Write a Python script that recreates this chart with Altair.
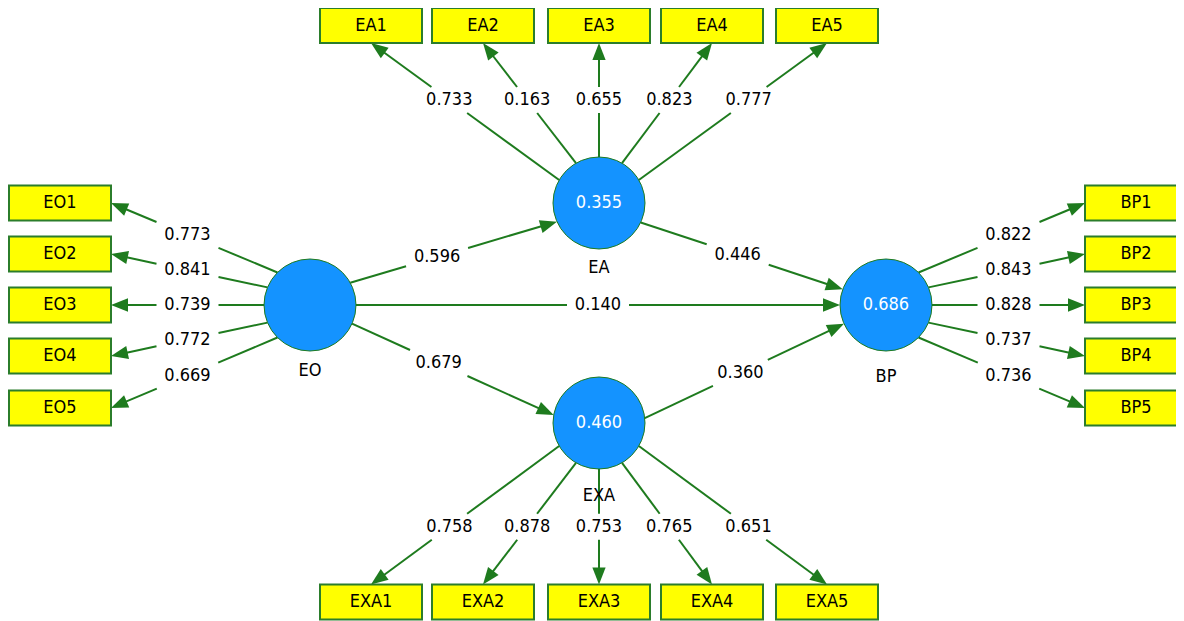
import math
import altair as alt
import pandas as pd

# ---------------- data ----------------
constructs = ["EO", "EA", "EXA", "BP"]
r2_values = ["", "0.355", "0.460", "0.686"]

eo_items = ["EO1", "EO2", "EO3", "EO4", "EO5"]
eo_loadings = [0.773, 0.841, 0.739, 0.772, 0.669]
ea_items = ["EA1", "EA2", "EA3", "EA4", "EA5"]
ea_loadings = [0.733, 0.163, 0.655, 0.823, 0.777]
exa_items = ["EXA1", "EXA2", "EXA3", "EXA4", "EXA5"]
exa_loadings = [0.758, 0.878, 0.753, 0.765, 0.651]
bp_items = ["BP1", "BP2", "BP3", "BP4", "BP5"]
bp_loadings = [0.822, 0.843, 0.828, 0.737, 0.736]

path_from = ["EO", "EO", "EO", "EA", "EXA"]
path_to = ["EA", "EXA", "BP", "BP", "BP"]
path_coefs = [0.596, 0.679, 0.140, 0.446, 0.360]

# ---------------- layout (diagram positions, px) ----------------
node_cx = [310, 599, 599, 886]
node_cy = [305, 203, 423, 305]
node_name_dy = [66, 65, 73, 72]
RADIUS = 46
BOX_W, BOX_H = 102, 35

eo_box_x = [60] * 5
eo_box_y = [203, 254, 305, 356, 408]
ea_box_x = [371, 483, 599, 712, 827]
ea_box_y = [25.5] * 5
exa_box_x = [371, 483, 599, 712, 827]
exa_box_y = [602] * 5
bp_box_x = [1136] * 5
bp_box_y = [203, 254, 305, 356, 408]

eo_angles = [135, 157.5, 180, 202.5, 225]
ea_angles = [150, 120, 90, 60, 30]
exa_angles = [210, 240, 270, 300, 330]
bp_angles = [45, 22.5, 0, -22.5, -45]

path_src_angle = [29, -24, 0, -25, 6]
path_dst_angle = [204, 170, 180, 160, 204]
path_label_t = [0.42, 0.43, 0.5, 0.48, 0.48]

GAP_HW, GAP_HH = 31, 13
ARROW_LEN = 17

GREEN = "#1e7b1e"
BOX_STROKE = "#2b7d2b"
BLUE = "#1493ff"
YELLOW = "#ffff00"
FONT = "DejaVu Sans Condensed"
FSIZE = 18


def circ_pt(i, ang):
    a = math.radians(ang)
    return node_cx[i] + RADIUS * math.cos(a), node_cy[i] - RADIUS * math.sin(a)


edges = []  # (sx, sy, tx, ty, lx, ly, text)

blocks = [
    ("EO", eo_items, eo_loadings, eo_box_x, eo_box_y, eo_angles, "right"),
    ("EA", ea_items, ea_loadings, ea_box_x, ea_box_y, ea_angles, "bottom"),
    ("EXA", exa_items, exa_loadings, exa_box_x, exa_box_y, exa_angles, "top"),
    ("BP", bp_items, bp_loadings, bp_box_x, bp_box_y, bp_angles, "left"),
]

boxes = []
for name, items, loads, bxs, bys, angs, side in blocks:
    ci = constructs.index(name)
    cx, cy = node_cx[ci], node_cy[ci]
    for it, ld, bx, by, ang in zip(items, loads, bxs, bys, angs):
        boxes.append({"x": bx - BOX_W / 2, "x2": bx + BOX_W / 2,
                      "y": by - BOX_H / 2, "y2": by + BOX_H / 2,
                      "cx": bx, "cy": by, "label": it})
        sx, sy = circ_pt(ci, ang)
        if side == "right":
            tx, ty = bx + BOX_W / 2, by
            lx = ((cx - RADIUS) + tx) / 2
            ly = sy + (ty - sy) * (lx - sx) / (tx - sx)
        elif side == "left":
            tx, ty = bx - BOX_W / 2, by
            lx = ((cx + RADIUS) + tx) / 2
            ly = sy + (ty - sy) * (lx - sx) / (tx - sx)
        elif side == "bottom":
            tx, ty = bx, by + BOX_H / 2
            ly = ((cy - RADIUS) + ty) / 2
            lx = sx + (tx - sx) * (ly - sy) / (ty - sy)
        else:
            tx, ty = bx, by - BOX_H / 2
            ly = ((cy + RADIUS) + ty) / 2
            lx = sx + (tx - sx) * (ly - sy) / (ty - sy)
        edges.append((sx, sy, tx, ty, lx, ly, f"{ld:.3f}"))

for f, t, c, sa, da, lt in zip(path_from, path_to, path_coefs,
                               path_src_angle, path_dst_angle, path_label_t):
    sx, sy = circ_pt(constructs.index(f), sa)
    tx, ty = circ_pt(constructs.index(t), da)
    lx, ly = sx + (tx - sx) * lt, sy + (ty - sy) * lt
    edges.append((sx, sy, tx, ty, lx, ly, f"{c:.3f}"))

segs, heads, labels = [], [], []
for sx, sy, tx, ty, lx, ly, txt in edges:
    dx, dy = tx - sx, ty - sy
    L = math.hypot(dx, dy)
    ux, uy = dx / L, dy / L
    s = min(GAP_HW / abs(ux) if abs(ux) > 1e-9 else 1e9,
            GAP_HH / abs(uy) if abs(uy) > 1e-9 else 1e9)
    segs.append({"x": sx, "y": sy, "x2": lx - s * ux, "y2": ly - s * uy})
    segs.append({"x": lx + s * ux, "y": ly + s * uy,
                 "x2": tx - 0.8 * ARROW_LEN * ux, "y2": ty - 0.8 * ARROW_LEN * uy})
    ang = math.degrees(math.atan2(dx, -dy)) % 360
    heads.append({"x": tx, "y": ty, "angle": ang})
    labels.append({"x": lx, "y": ly, "label": txt})

nodes = pd.DataFrame({
    "x": node_cx, "y": node_cy, "r2": r2_values, "name": constructs,
    "ny": [cy + d for cy, d in zip(node_cy, node_name_dy)],
})

XS = alt.Scale(domain=[8, 1176], nice=False, zero=False)
YS = alt.Scale(domain=[8, 621], reverse=True, nice=False, zero=False)


def X(f="x"):
    return alt.X(f"{f}:Q", scale=XS, axis=None)


def Y(f="y"):
    return alt.Y(f"{f}:Q", scale=YS, axis=None)


rules = alt.Chart(pd.DataFrame(segs)).mark_rule(
    color=GREEN, strokeWidth=2).encode(
    x=X(), y=Y(), x2="x2:Q", y2="y2:Q")

arrows = alt.Chart(pd.DataFrame(heads)).mark_point(
    shape="M0,0L-0.78,2L0.78,2Z", filled=True, size=ARROW_LEN ** 2,
    color=GREEN, opacity=1, strokeWidth=0).encode(
    x=X(), y=Y(), angle=alt.Angle("angle:Q", scale=None))

circles = alt.Chart(nodes).mark_circle(
    size=(2 * RADIUS) ** 2, color=BLUE, opacity=1,
    stroke=GREEN, strokeWidth=1).encode(x=X(), y=Y())

rects = alt.Chart(pd.DataFrame(boxes)).mark_rect(
    fill=YELLOW, stroke=BOX_STROKE, strokeWidth=2).encode(
    x=X(), x2="x2:Q", y=Y(), y2="y2:Q")

box_text = alt.Chart(pd.DataFrame(boxes)).mark_text(
    font=FONT, fontSize=FSIZE, color="#000000", baseline="middle",
    align="center").encode(x=X("cx"), y=Y("cy"), text="label:N")

r2_text = alt.Chart(nodes).mark_text(
    font=FONT, fontSize=FSIZE, color="#ffffff", baseline="middle",
    align="center").encode(x=X(), y=Y(), text="r2:N")

name_text = alt.Chart(nodes).mark_text(
    font=FONT, fontSize=FSIZE, color="#000000", baseline="middle",
    align="center").encode(x=X(), y=Y("ny"), text="name:N")

edge_text = alt.Chart(pd.DataFrame(labels)).mark_text(
    font=FONT, fontSize=FSIZE, color="#000000", baseline="middle",
    align="center").encode(x=X(), y=Y(), text="label:N")

chart = alt.layer(
    rules, arrows, circles, rects, box_text, r2_text, name_text, edge_text
).properties(
    width=1168, height=613,
    autosize=alt.AutoSizeParams(type="none"), padding=0,
).configure_view(stroke=None)

chart.save("out.html", embed_options={"renderer": "svg", "actions": False})
